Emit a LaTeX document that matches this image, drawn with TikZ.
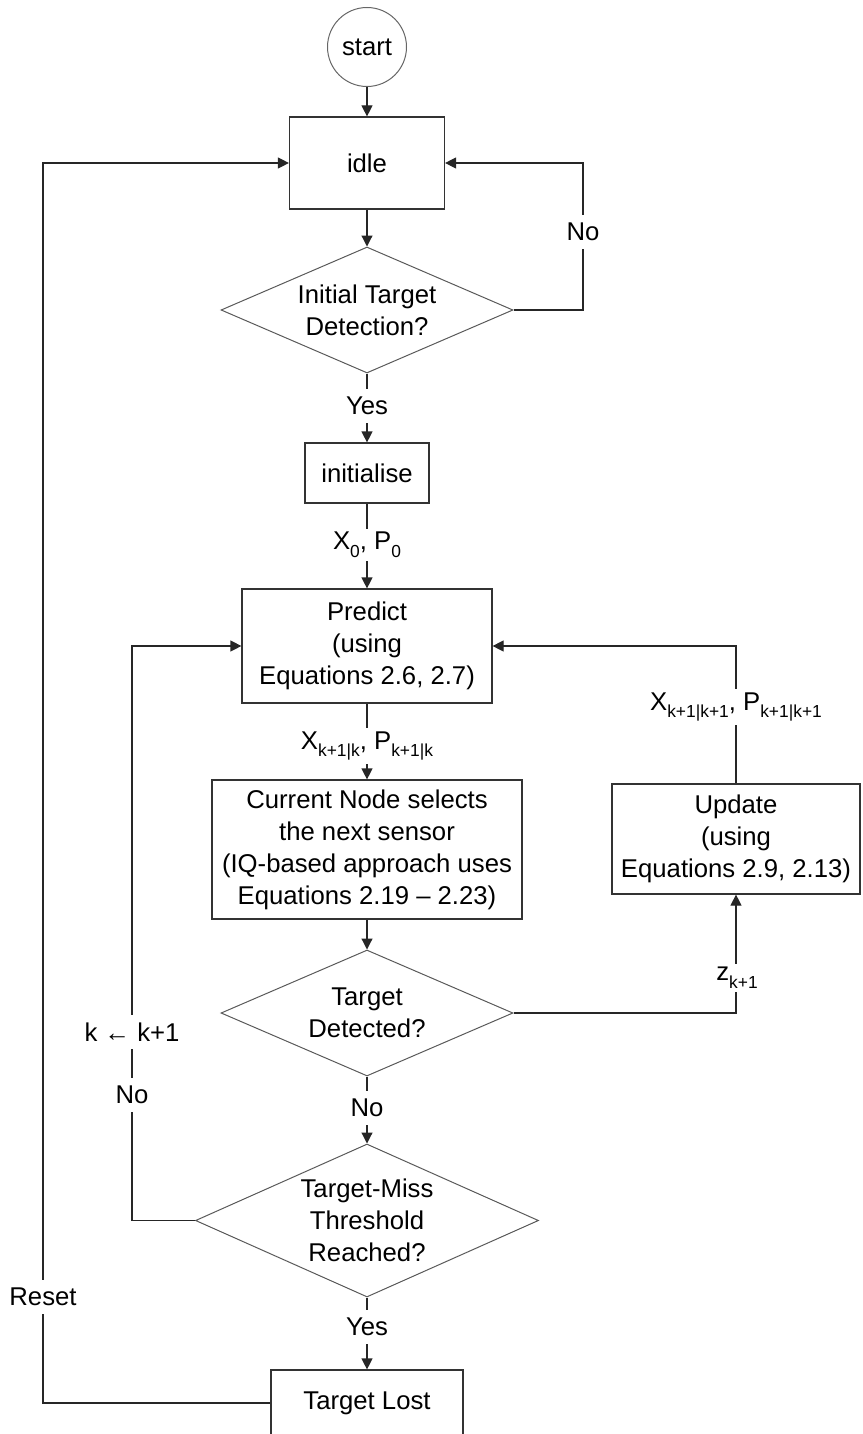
\documentclass[tikz,border=0pt]{standalone}
\usepackage{fontspec}
\setmainfont{Liberation Sans}
\usetikzlibrary{shapes.geometric,arrows.meta}

% lowered, smaller index text for state/covariance symbols
\newcommand\lsub[1]{\raisebox{-0.3em}{\fontsize{17.4}{18}\selectfont #1}}

\begin{document}
\begin{tikzpicture}[x=1pt,y=-1pt,
  every node/.style={font=\fontsize{25.7}{32}\selectfont},
  box/.style={draw=black!80, line width=1.2pt, rectangle, inner sep=0pt, align=center},
  decision/.style={draw=black!65, line width=1pt, diamond, inner sep=-6pt, align=center},
  startnode/.style={draw=black!60, line width=1pt, circle, inner sep=0pt},
  link/.style={draw=black!85, line width=1.2pt},
  flow/.style={link, -{Triangle[length=11pt,width=11pt]}},
  lab/.style={fill=white, inner xsep=3pt, inner ysep=8pt},
  sublab/.style={fill=white, inner xsep=3pt, inner ysep=3pt},
]
\useasboundingbox (0,0) rectangle (862,1434);

% main column
\node[startnode, minimum size=79pt] (start) at (367,47) {start};
\node[box, minimum width=155pt, minimum height=92pt] (idle) at (367,163) {idle};
\node[decision, shape aspect=2.32, minimum width=292pt, minimum height=126pt] (dec1) at (367,310) {Initial Target\\Detection?};
\node[box, minimum width=124pt, minimum height=60pt] (init) at (367,473) {initialise};
\node[box, minimum width=250pt, minimum height=114pt] (predict) at (367,646) {Predict\\(using\\Equations 2.6, 2.7)};
\node[box, minimum width=310pt, minimum height=139pt] (select) at (367,849.5) {Current Node selects\\the next sensor\\(IQ-based approach uses\\Equations 2.19 – 2.23)};
\node[decision, shape aspect=2.32, minimum width=292pt, minimum height=126pt] (dec2) at (367,1013) {Target\\Detected?};
\node[decision, shape aspect=2.24, minimum width=343pt, minimum height=153pt] (dec3) at (367,1220.5) {Target-Miss\\Threshold\\Reached?};
\node[box, minimum width=192pt, minimum height=66pt] (lost) at (367,1403) {Target Lost};

% right column
\node[box, minimum width=248pt, minimum height=110pt] (update) at (736,839) {Update\\(using\\Equations 2.9, 2.13)};

% bend points of the loops
\coordinate (noR) at (583,310);
\coordinate (loopL) at (132,1220.5);
\coordinate (resetL) at (43,1403);

% connectors
\draw[flow] (start) -- (idle);
\draw[flow] (idle) -- (dec1);
\draw[flow] (dec1.east) -- (noR) |- (idle.east);
\draw[flow] (dec1) -- (init);
\draw[flow] (init) -- (predict);
\draw[flow] (predict) -- (select);
\draw[flow] (select) -- (dec2);
\draw[flow] (dec2.east) -| (update.south);
\draw[flow] (update.north) |- (predict.east);
\draw[flow] (dec2) -- (dec3);
\draw[flow] (dec3.west) -- (loopL) |- (predict.west);
\draw[flow] (dec3) -- (lost);
\draw[flow] (lost.west) -- (resetL) |- (idle.west);

% connector labels
\node[lab] (lNo1) at (583,232) {No};
\node[lab] (lYes1) at (367,406) {Yes};
\node[sublab] (lX0) at (367,545) {X\lsub{0}, P\lsub{0}};
\node[sublab] (lXp) at (367,746) {X\lsub{k+1|k}, P\lsub{k+1|k}};
\node[sublab] (lXu) at (736,707) {X\lsub{k+1|k+1}, P\lsub{k+1|k+1}};
\node[sublab] (lz) at (737,978) {z\lsub{k+1}};
\node[lab] (lk) at (132,1032) {k ← k+1};
\node[lab] (lNo2) at (132,1095) {No};
\node[lab] (lNo3) at (367,1108) {No};
\node[lab] (lReset) at (43,1297) {Reset};
\node[lab] (lYes2) at (367,1327) {Yes};
\end{tikzpicture}
\end{document}
